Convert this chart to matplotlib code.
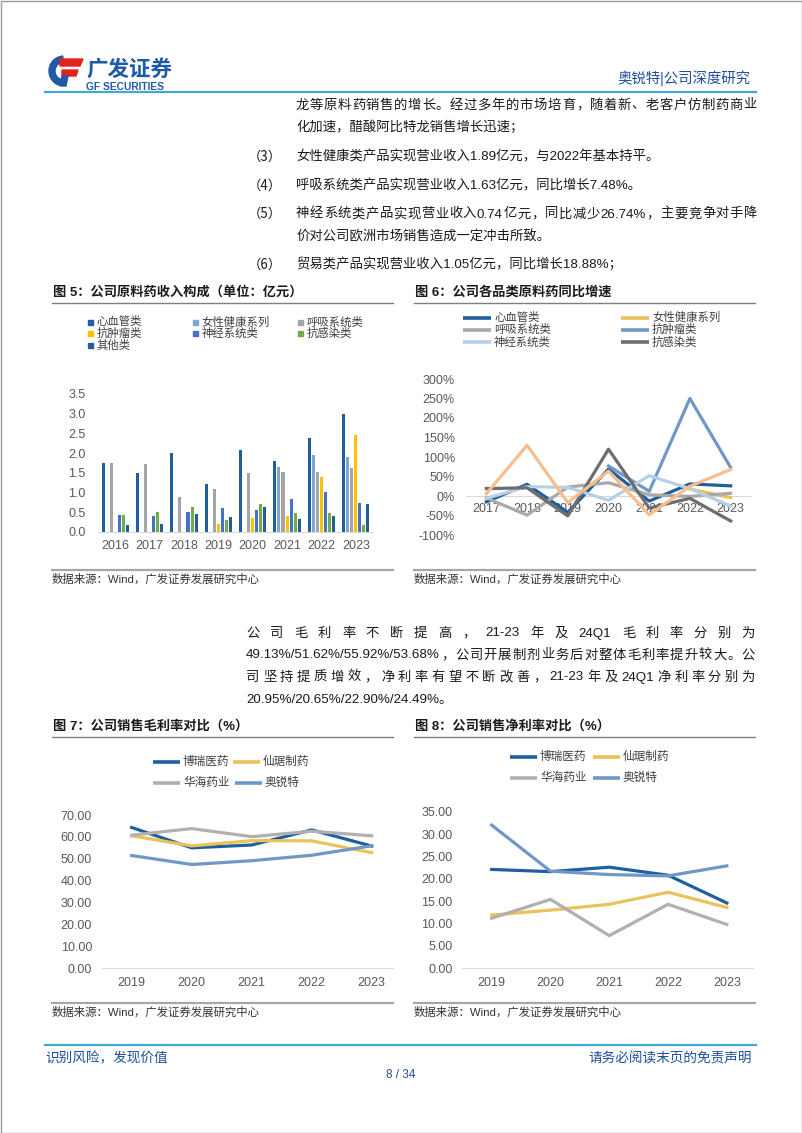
import re
import numpy as np
import matplotlib
matplotlib.use('Agg')
import matplotlib.pyplot as plt
from matplotlib.patches import Rectangle, Polygon, Wedge
from matplotlib.ticker import FormatStrFormatter, FuncFormatter

plt.rcParams['font.family'] = ['Liberation Sans', 'Noto Sans CJK SC']

# ---------------- data ----------------
# 图5 原料药收入构成（亿元）
years5 = ['2016', '2017', '2018', '2019', '2020', '2021', '2022', '2023']
cats5 = ['心血管类', '女性健康系列', '呼吸系统类', '抗肿瘤类', '神经系统类', '抗感染类', '其他类']
cardio = [1.75, 1.50, 1.99, 1.22, 2.08, 1.80, 2.37, 3.00]
women = [0, 0, 0, 0, 0, 1.65, 1.95, 1.89]
resp = [1.75, 1.72, 0.88, 1.09, 1.48, 1.53, 1.52, 1.63]
onco = [0, 0, 0, 0.20, 0.36, 0.39, 1.40, 2.45]
neuro = [0.42, 0.39, 0.49, 0.61, 0.55, 0.83, 1.00, 0.74]
infect = [0.42, 0.50, 0.63, 0.31, 0.70, 0.48, 0.47, 0.16]
other = [0.18, 0.20, 0.44, 0.37, 0.63, 0.33, 0.40, 0.70]
series5 = [cardio, women, resp, onco, neuro, infect, other]
colors5 = ['#1F5F9E', '#7FA6D3', '#A5A5A5', '#FFC000', '#4472C4', '#70AD47', '#255E91']

# 图6 各品类原料药同比增速（%）
years6 = ['2017', '2018', '2019', '2020', '2021', '2022', '2023']
nan = np.nan
g_cardio = [-15, 30, -42, 69, -13, 31, 26]
g_women = [nan, nan, nan, nan, nan, 18, -4]
g_resp = [-5, -49, 23, 34, 3, -1, 7]
g_onco = [nan, nan, nan, 77, 12, 250, 73]
g_neuro = [-6, 24, 22, -11, 52, 19, -26]
g_infect = [19, 21, -51, 120, -31, -6, -64]
g_other = [6, 130, -17, 64, -48, 25, 68]
names6 = ['心血管类', '女性健康系列', '呼吸系统类', '抗肿瘤类', '神经系统类', '抗感染类']
series6 = [g_cardio, g_women, g_resp, g_onco, g_neuro, g_infect, g_other]
colors6 = ['#1F5F9E', '#E9C15B', '#A9A9A9', '#6F98C6', '#B7CFE9', '#6D6D6D', '#F7BE8B']

# 图7/8 毛利率、净利率（%）
years7 = ['2019', '2020', '2021', '2022', '2023']
companies = ['博瑞医药', '仙琚制药', '华海药业', '奥锐特']
gross_borui = [64.3, 55.0, 56.3, 63.2, 55.8]
gross_xianju = [60.5, 55.9, 58.3, 58.2, 52.8]
gross_huahai = [60.8, 63.8, 60.1, 62.6, 60.5]
gross_aorui = [51.5, 47.4, 49.13, 51.62, 55.92]
net_borui = [22.1, 21.6, 22.6, 20.8, 14.6]
net_xianju = [11.9, 13.0, 14.3, 17.0, 13.6]
net_huahai = [11.2, 15.4, 7.3, 14.3, 9.8]
net_aorui = [32.0, 21.7, 20.95, 20.65, 22.90]
colors7 = ['#1F5F9E', '#EAC25A', '#B0B0B0', '#6F98C6']

# ---------------- page ----------------
W, H = 802, 1133
fig = plt.figure(figsize=(W / 100, H / 100), dpi=100)
page = fig.add_axes([0, 0, 1, 1])
page.set_xlim(0, W)
page.set_ylim(H, 0)
page.axis('off')
renderer = fig.canvas.get_renderer()

TXT = '#1a1a1a'
BLUE = '#1F4E9E'
TICK = '#595959'
BS = 9.6  # body font size


def chart_ax(x0, y0, x1, y1):
    ax = fig.add_axes([x0 / W, 1 - y1 / H, (x1 - x0) / W, (y1 - y0) / H])
    ax.set_facecolor('none')
    for s in ['top', 'right', 'left']:
        ax.spines[s].set_visible(False)
    ax.spines['bottom'].set_color('#D9D9D9')
    ax.tick_params(length=0, labelsize=9, labelcolor=TICK)
    return ax


def body(x, y, s, **kw):
    # y is the visual line centre; draw on a common baseline
    return page.text(x, y + 4.5, s, fontsize=BS, color=TXT, va='baseline', **kw)


def justify(s, y, x0, x1):
    toks = re.findall(r'[0-9A-Za-z.%/\-]+|.', s)
    ts = [body(0, y, t) for t in toks]
    ws = [t.get_window_extent(renderer).width for t in ts]
    gap = (x1 - x0 - sum(ws)) / (len(ts) - 1)
    x = x0
    for t, w in zip(ts, ws):
        t.set_x(x)
        x += w + gap


# page frame
page.add_patch(Rectangle((0.5, 0.5), W - 1, H - 1, fill=False, ec='#9A9A9A', lw=1))

# logo
page.add_patch(Wedge((64, 71), 15, 105, 265, width=6, color='#1E5AA8'))
page.add_patch(Polygon([(60, 59), (83, 59), (80, 66), (60, 66)], color='#E2231A'))
page.add_patch(Polygon([(62, 70), (78, 70), (76, 76), (62, 76)], color='#E2231A'))
page.add_patch(Polygon([(62, 76), (68, 76), (66, 86), (60, 86)], color='#1E5AA8'))
page.text(86, 70, '广发证券', fontsize=15.5, fontweight='bold', color='#1E5AA8', va='center')
page.text(86, 86.5, 'GF SECURITIES', fontsize=7.4, fontweight='bold', color='#1E5AA8', va='center')
page.text(750, 78, '奥锐特|公司深度研究', fontsize=10.4, color=BLUE, va='center', ha='right')
page.plot([45, 756], [92, 92], color='#45A7D6', lw=1.6)

# body text
cjk = ['Noto Sans CJK SC']
justify('龙等原料药销售的增长。经过多年的市场培育，随着新、老客户仿制药商业', 104, 296, 757)
body(296, 127, '化加速，醋酸阿比特龙销售增长迅速；')
body(248, 156, '（3）', family=cjk)
body(296, 156, '女性健康类产品实现营业收入1.89亿元，与2022年基本持平。')
body(248, 185, '（4）', family=cjk)
body(296, 185, '呼吸系统类产品实现营业收入1.63亿元，同比增长7.48%。')
body(248, 213, '（5）', family=cjk)
justify('神经系统类产品实现营业收入0.74亿元，同比减少26.74%，主要竞争对手降', 213, 296, 757)
body(296, 236, '价对公司欧洲市场销售造成一定冲击所致。')
body(248, 264, '（6）', family=cjk)
body(296, 264, '贸易类产品实现营业收入1.05亿元，同比增长18.88%；')

justify('公司毛利率不断提高，21-23年及24Q1毛利率分别为', 632, 246, 755)
justify('49.13%/51.62%/55.92%/53.68%，公司开展制剂业务后对整体毛利率提升较大。公', 654, 246, 755)
justify('司坚持提质增效，净利率有望不断改善，21-23年及24Q1净利率分别为', 676, 246, 755)
body(246, 698, '20.95%/20.65%/22.90%/24.49%。')

# titles, rules, sources
for x0, x1, y, t in [(52, 393, 292.5, '图 5：公司原料药收入构成（单位：亿元）'),
                     (414, 755, 292.5, '图 6：公司各品类原料药同比增速'),
                     (52, 393, 726, '图 7：公司销售毛利率对比（%）'),
                     (414, 755, 726, '图 8：公司销售净利率对比（%）')]:
    page.text(x0 + 1, y, t, fontsize=9.5, fontweight='bold', color=TXT, va='center')
    page.plot([x0, x1], [y + 10.5, y + 10.5], color='#7F7F7F', lw=1.0)

for x0, x1, y in [(52, 393, 570), (414, 755, 570), (52, 393, 1003), (414, 755, 1003)]:
    page.plot([x0, x1], [y, y], color='#A6A6A6', lw=1.6)
    page.text(x0, y + 9.5, '数据来源：Wind，广发证券发展研究中心', fontsize=8.2, color='#333333', va='center')

# footer
page.plot([45, 756], [1045, 1045], color='#45A7D6', lw=1.6)
page.text(45, 1058, '识别风险，发现价值', fontsize=9.8, color=BLUE, va='center')
page.text(752, 1058, '请务必阅读末页的免责声明', fontsize=9.8, color=BLUE, va='center', ha='right')
page.text(401, 1075, '8 / 34', fontsize=8.5, color=BLUE, va='center', ha='center')

# ---------------- 图5 ----------------
ax5 = chart_ax(98, 394, 373, 531.7)
x5 = np.arange(len(years5))
step = 0.118
for j, (vals, col, name) in enumerate(zip(series5, colors5, cats5)):
    ax5.bar(x5 + (j - 3) * step, vals, width=0.088, color=col, label=name)
ax5.set_xlim(-0.5, len(years5) - 0.5)
ax5.set_ylim(0, 3.5)
ax5.set_yticks(np.arange(0, 3.51, 0.5))
ax5.yaxis.set_major_formatter(FormatStrFormatter('%.1f'))
ax5.set_xticks(x5)
ax5.set_xticklabels(years5)
ax5.tick_params(axis='y', pad=9)
ax5.tick_params(axis='x', pad=6)

leg5_x = [88, 193, 298]
leg5_y = [322, 333.5, 345]
for k, (name, col) in enumerate(zip(cats5, colors5)):
    r, c = divmod(k, 3)
    x, y = leg5_x[c], leg5_y[r]
    page.add_patch(Rectangle((x, y - 2.5), 5, 5, color=col))
    page.text(x + 8.5, y, name, fontsize=8.2, color='#404040', va='center')

# ---------------- 图6 ----------------
ax6 = chart_ax(466, 379, 751, 535)
x6 = np.arange(len(years6))
for vals, col in zip(series6, colors6):
    ax6.plot(x6, vals, color=col, lw=2.3, zorder=3)
ax6.set_xlim(-0.5, len(years6) - 0.5)
ax6.set_ylim(-100, 300)
ax6.set_yticks(np.arange(-100, 301, 50))
ax6.yaxis.set_major_formatter(FuncFormatter(lambda v, p: '%d%%' % v))
ax6.spines['bottom'].set_position(('data', 0))
ax6.spines['bottom'].set_zorder(1)
ax6.set_xticks(x6)
ax6.set_xticklabels(years6)
ax6.tick_params(axis='y', pad=8)
ax6.tick_params(axis='x', pad=5)

leg6_x = [463, 621]
leg6_y = [317.5, 329.5, 342]
for k, (name, col) in enumerate(zip(names6, colors6)):
    r, c = divmod(k, 2)
    x, y = leg6_x[c], leg6_y[r]
    page.plot([x, x + 28], [y, y], color=col, lw=2.6, solid_capstyle='butt')
    page.text(x + 31, y, name, fontsize=8.2, color='#404040', va='center')


# ---------------- 图7 / 图8 ----------------
def margin_chart(box, ymax, ystep, data, leg_pos):
    ax = chart_ax(*box)
    x = np.arange(len(years7))
    for vals, col in zip(data, colors7):
        ax.plot(x, vals, color=col, lw=2.3)
    ax.set_ylim(0, ymax)
    ax.set_yticks(np.arange(0, ymax + 0.01, ystep))
    ax.yaxis.set_major_formatter(FormatStrFormatter('%.2f'))
    ax.set_xticks(x)
    ax.set_xticklabels(years7)
    ax.tick_params(axis='y', pad=7)
    ax.tick_params(axis='x', pad=6)
    for (lx, ly), name, col in zip(leg_pos, companies, colors7):
        page.plot([lx, lx + 27], [ly, ly], color=col, lw=2.6, solid_capstyle='butt')
        page.text(lx + 30, ly, name, fontsize=8.4, color='#404040', va='center')
    return ax


ax7 = margin_chart((101.7, 815, 392.7, 968.3), 70, 10,
                   [gross_borui, gross_xianju, gross_huahai, gross_aorui],
                   [(153, 761.5), (233, 761.5), (153, 783), (235, 783)])
ax7.set_xlim(-0.5, 4.35)
ax8 = margin_chart((462.3, 811.7, 753.3, 968.3), 35, 5,
                   [net_borui, net_xianju, net_huahai, net_aorui],
                   [(510, 757), (593, 757), (510, 778), (593, 778)])
ax8.set_xlim(-0.5, 4.45)

fig.savefig('out.png', dpi=100)
